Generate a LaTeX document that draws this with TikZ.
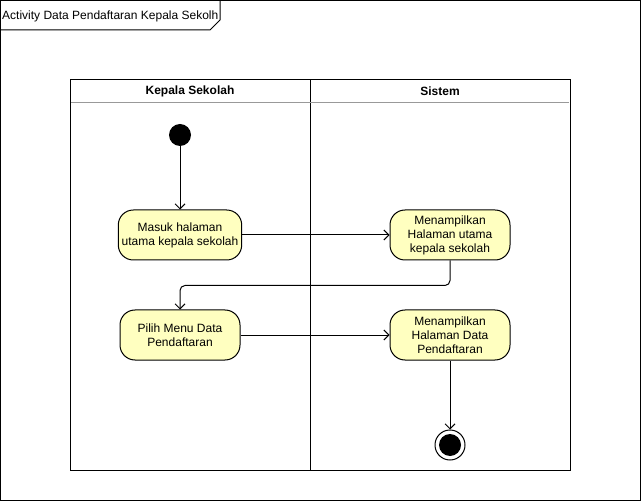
\documentclass[tikz,border=0pt]{standalone}
\usepackage{fontspec}
\setmainfont{Liberation Sans}
\usepackage{tikz}
\usetikzlibrary{shapes,arrows.meta,positioning}
\definecolor{actfill}{HTML}{FFFFC0}
\tikzstyle{action} = [rectangle, draw, fill=actfill, rounded corners=15pt,
    minimum width=120pt, minimum height=50pt, align=center, line width=1pt,
    font=\fontsize{12}{14}\selectfont]
\tikzstyle{line} = [draw, line width=1pt, -{Straight Barb[length=5pt,width=10pt]}]
\tikzstyle{lane} = [font=\bfseries\fontsize{12}{14}\selectfont]

\begin{document}
\begin{tikzpicture}[x=1pt, y=-1pt]
  \useasboundingbox (0,0) rectangle (642,502);
  % Frame and title tab
  \draw[line width=1pt] (0.5,0.5) rectangle (640.5,500.5);
  \draw[line width=1pt] (0.5,30) -- (210,30) -- (220,20) -- (220,0.5);
  \node[anchor=west, inner sep=0pt, font=\fontsize{12}{14}\selectfont]
    (title) at (2,16) {Activity Data Pendaftaran Kepala Sekolh};
  % Swimlanes
  \draw[line width=1pt] (70,80) rectangle (570,470);
  \draw[line width=1pt] (310,80) -- (310,470);
  \draw[line width=1pt, black!40] (71,103) -- (569,103);
  \node[lane] (kepsek) at (190,91) {Kepala Sekolah};
  \node[lane] (sistem) at (440,91) {Sistem};
  % Place nodes
  \node[circle, fill=black, minimum size=22pt, inner sep=0pt] (start) at (180,135) {};
  \node[action] (masuk) at (180,235) {Masuk halaman\\utama kepala sekolah};
  \node[action] (tampil) at (450,235) {Menampilkan\\Halaman utama\\kepala sekolah};
  \node[action] (pilih) at (180,335) {Pilih Menu Data\\Pendaftaran};
  \node[action] (daftar) at (450,335) {Menampilkan\\Halaman Data\\Pendaftaran};
  \node[circle, draw, line width=1pt, fill=white, minimum size=30pt, inner sep=0pt] (end) at (450,445) {};
  \fill (end.center) circle (11pt);
  % Draw edges
  \path [line] (start) -- (masuk);
  \path [line] (masuk) -- (tampil);
  \path [line, rounded corners=5pt] (tampil.south) -- ++(0,25) -| (pilih.north);
  \path [line] (pilih) -- (daftar);
  \path [line] (daftar) -- (end);
\end{tikzpicture}
\end{document}
